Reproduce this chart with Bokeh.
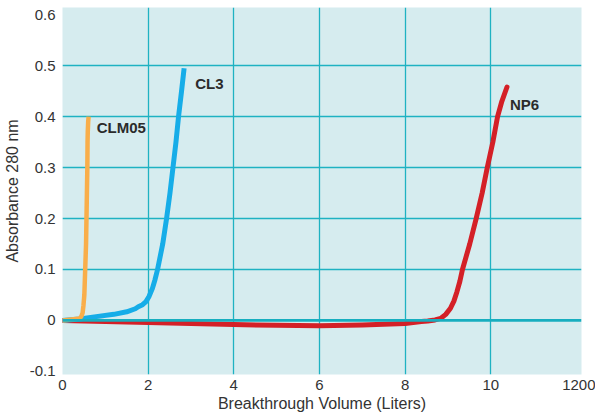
from bokeh.plotting import figure
from bokeh.models import FixedTicker, Span, Range1d
from bokeh.embed import file_html
from bokeh.resources import INLINE
from bokeh.core.properties import value

# ---- data ----
clm05_x = [0, 0.2, 0.4, 0.44, 0.47, 0.49, 0.51, 0.53, 0.55, 0.56, 0.57, 0.58, 0.585, 0.59, 0.6, 0.61]
clm05_y = [0, 0.002, 0.004, 0.008, 0.015, 0.03, 0.05, 0.1, 0.15, 0.2, 0.25, 0.3, 0.35, 0.37, 0.39, 0.4]

cl3_x = [0, 0.4, 0.83, 1.2, 1.5, 1.7, 1.77, 1.87, 1.95, 2.02, 2.10, 2.16, 2.22,
         2.34, 2.43, 2.51, 2.58, 2.65, 2.71, 2.78, 2.84]
cl3_y = [0, 0.003, 0.008, 0.012, 0.017, 0.023, 0.027, 0.031, 0.037, 0.047, 0.063, 0.08, 0.1,
         0.15, 0.2, 0.25, 0.3, 0.35, 0.4, 0.45, 0.495]

np6_x = [0, 1, 2, 4, 5, 6, 7, 8, 8.38, 8.53, 8.7, 8.83, 8.95, 9.06, 9.14, 9.21, 9.28, 9.34,
         9.51, 9.66, 9.80, 9.92, 10.05, 10.16, 10.26, 10.38]
np6_y = [0, -0.002, -0.004, -0.008, -0.0095, -0.0105, -0.009, -0.006, -0.002, -0.001,
         0.001, 0.004, 0.012, 0.024, 0.038, 0.056, 0.077, 0.1,
         0.15, 0.2, 0.25, 0.3, 0.35, 0.4, 0.43, 0.458]

series_names = ["CLM05", "CL3", "NP6"]
label_x = [0.8, 3.1, 10.45]
label_y = [0.378, 0.465, 0.424]

x_ticks = [0, 2, 4, 6, 8, 10, 12.12]
x_tick_labels = ["0", "2", "4", "6", "8", "10", "1200"]
y_ticks = [-0.1, 0, 0.1, 0.2, 0.3, 0.4, 0.5, 0.6]
y_tick_labels = ["-0.1", "0", "0.1", "0.2", "0.3", "0.4", "0.5", "0.6"]
x_title = "Breakthrough Volume (Liters)"
y_title = "Absorbance 280 nm"

FONT = "Liberation Sans"
TEAL = "#1fb2c2"
TXT = "#333333"

p = figure(width=595, height=416, output_backend="svg", toolbar_location=None,
           x_range=Range1d(0, 12.12), y_range=Range1d(-0.106, 0.614),
           min_border_left=54, min_border_right=14, min_border_top=7, min_border_bottom=42)

p.background_fill_color = "#d6ecef"
p.border_fill_color = "white"
p.outline_line_color = None

p.xaxis.ticker = FixedTicker(ticks=x_ticks)
p.xaxis.major_label_overrides = {t: l for t, l in zip(x_ticks, x_tick_labels)}
p.yaxis.ticker = FixedTicker(ticks=y_ticks)
p.yaxis.major_label_overrides = {t: l for t, l in zip(y_ticks, y_tick_labels)}

for ax in (p.xaxis[0], p.yaxis[0]):
    ax.axis_line_color = None
    ax.major_tick_line_color = None
    ax.minor_tick_line_color = None
    ax.major_tick_out = 0
    ax.major_tick_in = 0
    ax.major_label_text_font = FONT
    ax.major_label_text_font_size = "15px"
    ax.major_label_text_color = TXT
    ax.axis_label_text_font = FONT
    ax.axis_label_text_font_size = "16px"
    ax.axis_label_text_font_style = "normal"
    ax.axis_label_text_color = TXT

p.xaxis.axis_label = x_title
p.yaxis.axis_label = y_title
p.xaxis.major_label_standoff = 5
p.xaxis.axis_label_standoff = 2
p.yaxis.major_label_standoff = 7
p.yaxis.axis_label_standoff = 6

p.xgrid.ticker = FixedTicker(ticks=[2, 4, 6, 8, 10])
p.ygrid.ticker = FixedTicker(ticks=[0.1, 0.2, 0.3, 0.4, 0.5])
p.xgrid.grid_line_color = TEAL
p.ygrid.grid_line_color = TEAL
p.xgrid.grid_line_width = 1.3
p.ygrid.grid_line_width = 1.3

zero = Span(location=0, dimension="width", line_color="#17aebf", line_width=2.8)
p.add_layout(zero)

p.line(np6_x, np6_y, line_color="#d42027", line_width=5, line_cap="round", line_join="round")
p.line(cl3_x, cl3_y, line_color="#16ade8", line_width=5, line_cap="butt", line_join="round")
p.line(clm05_x, clm05_y, line_color="#f9ae4a", line_width=4.5, line_cap="butt", line_join="round")

p.text(x=label_x, y=label_y, text=series_names, text_font=value(FONT),
       text_font_size="15px", text_font_style="bold", text_color="#2b2b2b",
       text_baseline="middle", text_align="left")

open("out.html", "w").write(file_html(p, INLINE))
